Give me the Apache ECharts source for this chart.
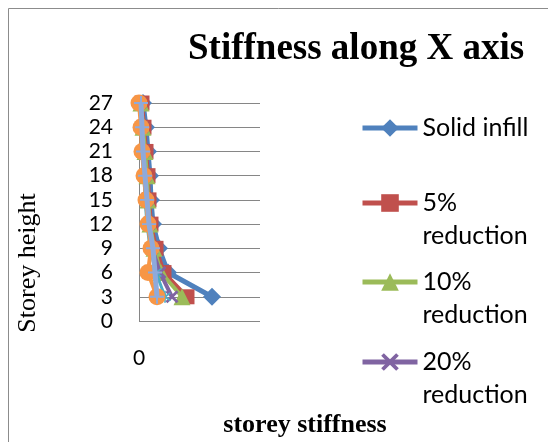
<!DOCTYPE html>
<html>
<head>
<meta charset="utf-8">
<script src="https://cdn.jsdelivr.net/npm/echarts@6/dist/echarts.min.js"></script>
<style>
html,body{margin:0;padding:0;background:#fff;}
#c{width:548px;height:442px;}
</style>
</head>
<body>
<div id="c"></div>
<script>
// Storey heights (y) and storey stiffness (x, arbitrary units)
const storeys = [3, 6, 9, 12, 15, 18, 21, 24, 27];
const seriesNames = ['Solid infill', '5% reduction', '10% reduction', '20% reduction', '30% reduction', '40% reduction', '50% reduction'];
const solidInfill  = [73, 29, 20, 14, 12, 11, 9, 7, 4];
const red5         = [48, 25, 17, 12, 10, 9, 7, 5, 3];
const red10        = [43, 22, 15, 11, 9, 8, 6, 4, 2];
const red20        = [33, 21, 13, 10, 8, 6, 4, 3, 1];
const red30        = [26, 17, 11, 8, 6, 5, 3, 2, 1];
const red40        = [18, 9, 12, 9, 7, 5, 3, 2, 0];
const red50        = [18, 16, 14, 10, 8, 6, 4, 3, 2];
const yTicks = [0, 3, 6, 9, 12, 15, 18, 21, 24, 27];

const colors = ['#4F81BD', '#C0504D', '#9BBB59', '#8064A2', '#4BACC6', '#F79646', '#8EAADB'];
const xPath = 'path://M0,1.5 L1.5,0 L5,3.5 L8.5,0 L10,1.5 L6.5,5 L10,8.5 L8.5,10 L5,6.5 L1.5,10 L0,8.5 L3.5,5 Z';
const plusPath = 'path://M4.3,0 H5.7 V4.3 H10 V5.7 H5.7 V10 H4.3 V5.7 H0 V4.3 H4.3 Z';
const starPath = 'path://M4.4,0 H5.6 V3.6 L8.6,1.2 L9.4,2.1 L6.2,5 L9.4,7.9 L8.6,8.8 L5.6,6.4 V10 H4.4 V6.4 L1.4,8.8 L0.6,7.9 L3.8,5 L0.6,2.1 L1.4,1.2 L4.4,3.6 Z';
const symbols = ['diamond', 'rect', 'triangle', xPath, starPath, 'circle', plusPath];
const symbolSizes = [18, 15, 17, 13, 12, 17, 14];
const lineWidths = [5, 4, 4, 4, 3, 4, 5];
const allData = [solidInfill, red5, red10, red20, red30, red40, red50];

const series = allData.map((vals, i) => ({
  name: seriesNames[i],
  type: 'line',
  data: vals.map((v, k) => [v, storeys[k]]),
  symbol: symbols[i],
  symbolSize: symbolSizes[i],
  showSymbol: true,
  lineStyle: { color: colors[i], width: lineWidths[i] },
  itemStyle: { color: colors[i] },
  z: 2 + i * 2,
  animation: false
}));

const legendFont = { fontFamily: 'Lato', fontSize: 25, color: '#000', lineHeight: 33 };
function mkLegend(name, top, twoLine) {
  return {
    data: [name],
    left: 360,
    top: top,
    orient: 'vertical',
    padding: 0,
    itemWidth: 55,
    itemHeight: 22,
    selectedMode: false,
    lineStyle: { width: 5 },
    formatter: n => twoLine ? '\n' + n.replace(' ', '\n') : n,
    textStyle: legendFont
  };
}

const chart = echarts.init(document.getElementById('c'), null, { renderer: 'canvas' });
chart.setOption({
  backgroundColor: '#fff',
  color: colors,
  title: {
    text: 'Stiffness along X axis',
    left: 183,
    top: 26,
    textStyle: { fontFamily: 'Liberation Serif', fontWeight: 'bold', fontSize: 37, color: '#000' }
  },
  legend: [
    mkLegend(seriesNames[0], 111.5, false),
    mkLegend(seriesNames[1], 153.5, true),
    mkLegend(seriesNames[2], 232.5, true),
    mkLegend(seriesNames[3], 312.5, true)
  ],
  grid: { left: 139, top: 103, width: 121, height: 218, containLabel: false },
  xAxis: {
    type: 'value',
    min: 0,
    max: 121,
    interval: 121,
    axisLine: { show: false },
    axisTick: { show: false },
    splitLine: { show: false },
    axisLabel: {
      margin: 27,
      fontFamily: 'Lato', fontSize: 21, color: '#000',
      formatter: v => (v === 0 ? '0' : '')
    }
  },
  yAxis: {
    type: 'value',
    min: yTicks[0],
    max: yTicks[yTicks.length - 1],
    interval: 3,
    axisLine: { show: true, lineStyle: { color: '#868686', width: 1 } },
    axisTick: { show: false },
    splitLine: { show: true, lineStyle: { color: '#868686', width: 1 } },
    axisLabel: { margin: 26, fontFamily: 'Lato', fontSize: 21, color: '#000' }
  },
  graphic: [
    { type: 'rect', shape: { x: 8.5, y: 8.5, width: 700, height: 600 }, style: { fill: 'none', stroke: '#8c8c8c', lineWidth: 1 }, z: 0 },
    { type: 'text', x: 28, y: 263, rotation: Math.PI / 2,
      style: { text: 'Storey height', fontFamily: 'Liberation Serif', fontSize: 26, fill: '#000', align: 'center', verticalAlign: 'middle' } },
    { type: 'text', x: 305, y: 425,
      style: { text: 'storey stiffness', fontFamily: 'Liberation Serif', fontWeight: 'bold', fontSize: 26, fill: '#000', align: 'center', verticalAlign: 'middle' } }
  ],
  series: series
});
</script>
</body>
</html>
